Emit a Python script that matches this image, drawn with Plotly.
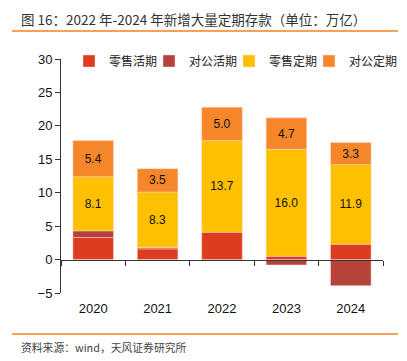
import plotly.graph_objects as go

years = ["2020", "2021", "2022", "2023", "2024"]
retail_demand = [3.3, 1.6, 4.1, 0.5, 2.3]
corp_demand = [1.0, 0.2, -0.1, -0.8, -3.9]
retail_time = [8.1, 8.3, 13.7, 16.0, 11.9]
corp_time = [5.4, 3.5, 5.0, 4.7, 3.3]
names = ["零售活期", "对公活期", "零售定期", "对公定期"]
colors = ["#DC3D1E", "#B5433A", "#FFC000", "#F5862A"]
yticks = [-5, 0, 5, 10, 15, 20, 25, 30]

FONT = "Liberation Sans, Arial, Noto Sans CJK SC, sans-serif"
CJK = "Noto Sans CJK SC, sans-serif"

# plot area in pixels
L, T, W, H = 61, 59, 322, 234

def px_x(x):
    return (x - L) / W

def px_y(y):
    return 1 - (y - T) / H

legend_ids = ["legend", "legend2", "legend3", "legend4"]
legend_px = [69, 149, 229, 309]

fig = go.Figure()
series = [retail_demand, corp_demand, retail_time, corp_time]
for i, (nm, vals, col) in enumerate(zip(names, series, colors)):
    show_text = i >= 2
    fig.add_trace(go.Bar(
        x=years, y=vals, name=nm, legend=legend_ids[i],
        marker=dict(color=col, line=dict(color="rgba(255,220,220,0.8)", width=0.6)),
        text=[f"{v:.1f}" for v in vals] if show_text else None,
        textposition="inside" if show_text else "none",
        insidetextanchor="middle",
        textfont=dict(color="#111111", size=12, family=FONT),
        hoverinfo="skip",
    ))

fig.add_trace(go.Scatter(x=[-0.5, 4.5], y=[0, 0], xaxis="x2", mode="lines",
                         line=dict(width=0), showlegend=False, hoverinfo="skip"))

zero_frac = 5 / 35
legend_layout = {}
for lid, lx in zip(legend_ids, legend_px):
    legend_layout[lid] = dict(orientation="h", x=px_x(lx), y=px_y(61), xanchor="left",
                              yanchor="middle", font=dict(size=12, family=CJK, color="#222"),
                              itemwidth=30, bgcolor="rgba(0,0,0,0)")

fig.update_layout(
    width=407, height=361,
    barmode="relative",
    bargap=0.37,
    plot_bgcolor="white", paper_bgcolor="white",
    margin=dict(l=L, r=407 - L - W, t=T, b=361 - T - H, autoexpand=False),
    font=dict(family=FONT, size=13, color="#222222"),
    showlegend=True,
    xaxis=dict(type="category", showline=False, ticks="", showgrid=False,
               tickfont=dict(size=13, color="#111"), ticklabelstandoff=6,
               range=[-0.5, 4.5]),
    xaxis2=dict(overlaying="x", anchor="free", position=zero_frac, range=[-0.5, 4.5],
                tickvals=[-0.5, 0.5, 1.5, 2.5, 3.5, 4.5], showticklabels=False,
                ticks="outside", ticklen=5, tickcolor="#333", showline=True,
                linecolor="#333", linewidth=1, showgrid=False, zeroline=False),
    yaxis=dict(range=[-5, 30], tickvals=yticks, showgrid=False, zeroline=False,
               showline=True, linecolor="#333", linewidth=1, ticks="outside",
               ticklen=5, tickcolor="#333", tickfont=dict(size=13, color="#111")),
    **legend_layout,
)

fig.add_annotation(text="图 16：2022 年-2024 年新增大量定期存款（单位：万亿）",
                   xref="paper", yref="paper", x=px_x(19), y=px_y(19), xanchor="left",
                   yanchor="middle", showarrow=False,
                   font=dict(size=13.5, color="#333333", family=CJK))
fig.add_annotation(text="资料来源：wind，天风证券研究所",
                   xref="paper", yref="paper", x=px_x(19), y=px_y(347), xanchor="left",
                   yanchor="middle", showarrow=False,
                   font=dict(size=10.8, color="#444444", family=CJK))
for yy in (31, 334):
    fig.add_shape(type="line", xref="paper", yref="paper", x0=px_x(12), x1=px_x(398),
                  y0=px_y(yy), y1=px_y(yy), line=dict(color="#F58220", width=1.5))

fig.write_html("out.html", post_script="document.body.style.margin='0px';",
               config={"displayModeBar": False})
